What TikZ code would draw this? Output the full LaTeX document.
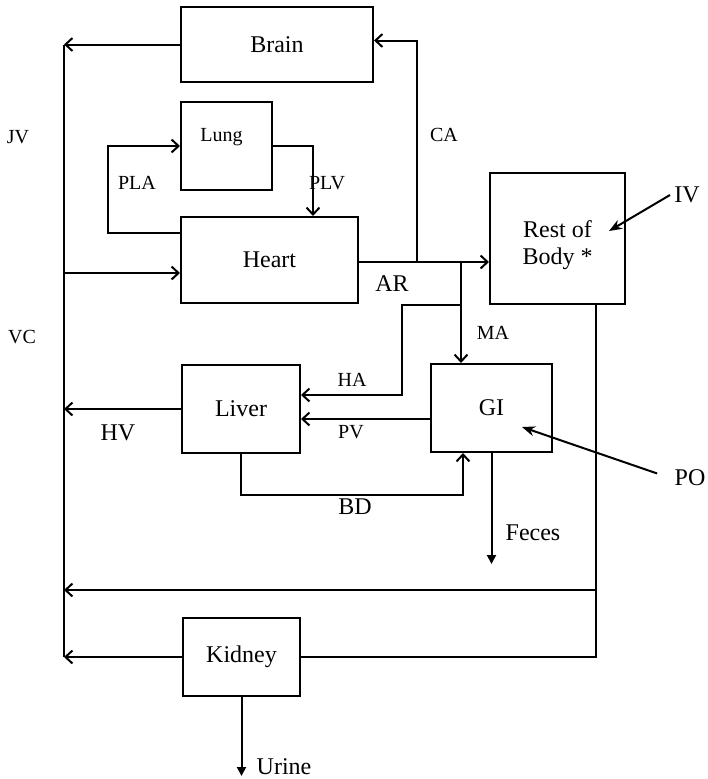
\documentclass[tikz,border=0pt]{standalone}
\usepackage{fontspec}
\setmainfont{Liberation Serif}
\usetikzlibrary{arrows.meta}
\begin{document}
\begin{tikzpicture}[x=1pt, y=-1pt, line width=2pt,
  >={Straight Barb[length=7pt,width=13pt]},
  organ/.style={draw, inner sep=0pt, font=\fontsize{24}{27}\selectfont, align=center},
  flow/.style={->},
  outflow/.style={-{Triangle[length=9pt,width=9pt]}},
  dose/.style={-{Stealth[length=13pt,width=10pt]}},
  lab/.style={font=\fontsize{24}{27}\selectfont},
  slab/.style={font=\fontsize{20}{24}\selectfont}]
  \useasboundingbox (0,0) rectangle (707,779);
  \node[organ, minimum width=192pt, minimum height=75pt] (brain) at (277,44.5) {Brain};
  \node[organ, minimum width=91pt, minimum height=88pt,
        label={[slab, xshift=-5pt, yshift=9pt]center:Lung}] (lung) at (226.5,146) {};
  \node[organ, minimum width=177pt, minimum height=86pt] (heart) at (269.5,260) {Heart};
  \node[organ, minimum width=135pt, minimum height=131pt,
        label={[lab, align=center, yshift=-7pt]center:{Rest of\\Body *}}] (rest) at (557.5,238.5) {};
  \node[organ, minimum width=118pt, minimum height=88pt] (liver) at (241,409) {Liver};
  \node[organ, minimum width=121pt, minimum height=88pt] (gi) at (491.5,408) {GI};
  \node[organ, minimum width=117pt, minimum height=78pt] (kidney) at (241.5,657) {Kidney};
  \coordinate (vc) at (64,44.5);
  \coordinate (pla) at (108,0);
  \coordinate (ca) at (417,262);
  \coordinate (ma) at (461,262);
  \coordinate (ha) at (402,305);
  \coordinate (rb) at (596,590);
  \coordinate (hin) at ([yshift=-13pt]heart.west);
  \coordinate (ar) at ([yshift=-2pt]heart.east);
  \coordinate (pv) at ([yshift=-11pt]gi.west);
  \draw[flow] (brain.west) -- (brain.west -| vc);
  \draw (vc) -- (vc |- kidney.west);
  \draw[flow] (hin -| vc) -- (hin);
  \draw[flow] ([yshift=27pt]heart.west) -| (pla |- lung.west) -- (lung.west);
  \draw[flow] (lung.east) -| ([xshift=43.5pt]heart.north);
  \draw[flow] (ar) -- (ar -| rest.west);
  \draw[flow] (ca) |- ([yshift=4pt]brain.east);
  \draw[flow] (ma) -- (ma |- gi.north);
  \draw[flow] (ma |- ha) -- (ha) |- ([yshift=14pt]liver.east);
  \draw[flow] (pv) -- (pv -| liver.east);
  \draw[flow] (liver.west) -- (liver.west -| vc);
  \draw[flow] (liver.south) -- ++(0,41) -| ([xshift=-28.5pt]gi.south);
  \draw[outflow] (gi.south) -- ++(0,111);
  \draw ([xshift=38.5pt]rest.south) |- (kidney.east);
  \draw[flow] (rb) -- (rb -| vc);
  \draw[flow] (kidney.west) -- (kidney.west -| vc);
  \draw[outflow] (kidney.south) -- ++(0,79);
  \node[lab] (iv) at (687,195) {IV};
  \draw[dose] (iv.west) -- ([xshift=51.5pt, yshift=7.5pt]rest.center);
  \node[lab] (po) at (690,478) {PO};
  \draw[dose, shorten <=14pt] (po.west) -- ([xshift=30.5pt, yshift=-19pt]gi.center);
  \node[slab] (jv) at (18,137) {JV};
  \node[slab] (vclab) at (22,337) {VC};
  \node[slab] (plalab) at (137,183) {PLA};
  \node[slab] (plvlab) at (327,183) {PLV};
  \node[slab] (calab) at (444,135) {CA};
  \node[lab] (arlab) at (392,284) {AR};
  \node[slab] (malab) at (493,333) {MA};
  \node[slab] (halab) at (352,380) {HA};
  \node[slab] (pvlab) at (351,432) {PV};
  \node[lab] (hvlab) at (118,433) {HV};
  \node[lab] (bdlab) at (355,507) {BD};
  \node[lab] (feces) at (533,533) {Feces};
  \node[lab] (urine) at (284,767) {Urine};
\end{tikzpicture}
\end{document}
